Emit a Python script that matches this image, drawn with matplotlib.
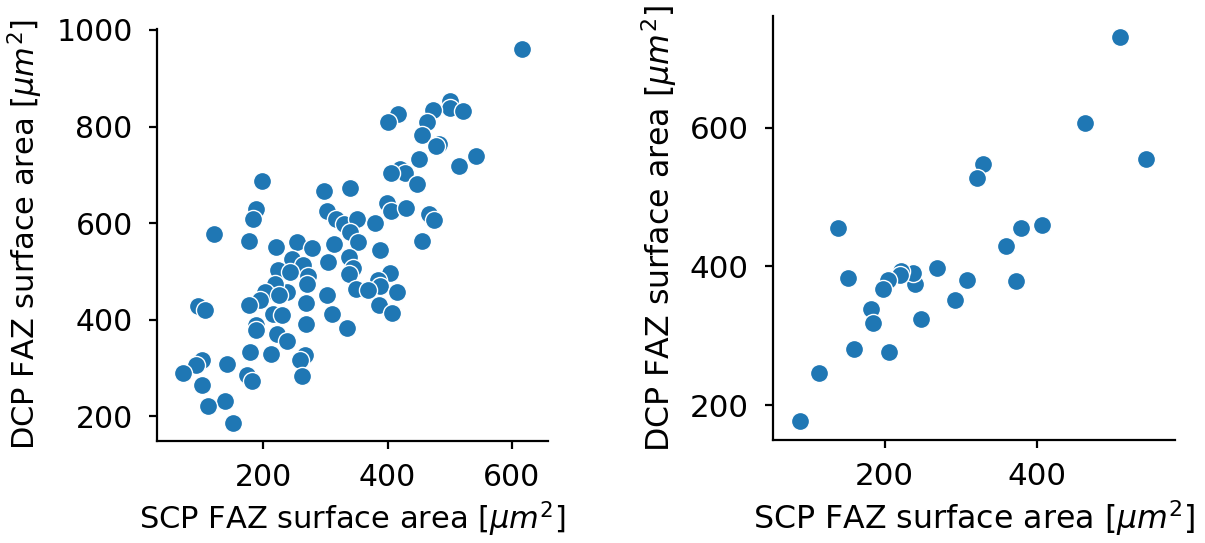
import numpy as np
import matplotlib
matplotlib.use('Agg')
import matplotlib.pyplot as plt

# Left panel: SCP vs DCP FAZ area (all eyes)
scp_all = [616, 501, 500, 473, 522, 463, 417, 400, 455, 483, 477, 542, 515,
           450, 420, 428, 406, 447, 198, 297, 340, 399, 406, 430, 467, 474,
           188, 184, 120, 177, 302, 317, 330, 351, 340, 380, 352, 456, 221,
           254, 278, 313, 388, 246, 264, 304, 338, 224, 243, 272, 344, 338,
           404, 384, 388, 349, 369, 415, 270, 238, 219, 203, 195, 177, 226,
           269, 302, 216, 230, 310, 334, 386, 407, 95, 106, 188, 189, 222,
           238, 269, 179, 213, 267, 259, 263, 101, 91, 71, 102, 141, 173,
           182, 138, 111, 152]
dcp_all = [960, 853, 838, 834, 833, 810, 826, 810, 782, 764, 760, 739, 718,
           733, 713, 704, 704, 682, 688, 667, 673, 641, 625, 632, 618, 606,
           630, 608, 577, 564, 625, 608, 598, 608, 582, 600, 561, 563, 551,
           561, 548, 556, 544, 525, 513, 520, 529, 503, 499, 490, 508, 494,
           496, 482, 469, 463, 461, 458, 474, 458, 475, 458, 440, 430, 451,
           435, 451, 413, 409, 413, 384, 430, 414, 428, 421, 390, 378, 371,
           357, 392, 333, 329, 328, 316, 283, 316, 306, 289, 266, 308, 285,
           273, 232, 221, 187]

# Right panel: SCP vs DCP FAZ area (subset)
scp_sub = [509, 463, 544, 329, 322, 139, 379, 407, 360, 373, 308, 269, 292,
           248, 240, 237, 222, 220, 204, 198, 182, 185, 152, 160, 205, 113, 89]
dcp_sub = [730, 607, 555, 548, 527, 456, 455, 459, 430, 379, 381, 398, 351,
           324, 375, 390, 393, 388, 380, 367, 339, 319, 384, 281, 277, 247, 178]

xlabel = 'SCP FAZ surface area [$\\mu m^2$]'
ylabel = 'DCP FAZ surface area [$\\mu m^2$]'

plt.rcParams['font.family'] = 'DejaVu Sans'

fig = plt.figure(figsize=(12.05, 5.43), dpi=100)
ax1 = fig.add_axes([0.1303, 0.1878, 0.3245, 0.7588])
ax2 = fig.add_axes([0.6415, 0.1897, 0.3336, 0.7800])

# the right panel was drawn a touch larger in the original
for ax, xs, ys, fs in [(ax1, scp_all, dcp_all, 21.5),
                       (ax2, scp_sub, dcp_sub, 22.3)]:
    ax.scatter(xs, ys, s=170, color='#1f77b4', edgecolors='white',
               linewidths=1.0, zorder=3)
    ax.spines['top'].set_visible(False)
    ax.spines['right'].set_visible(False)
    for sp in ['left', 'bottom']:
        ax.spines[sp].set_linewidth(1.6)
    ax.tick_params(axis='x', width=1.6, length=6, pad=10, labelsize=fs)
    ax.tick_params(axis='y', width=1.6, length=6, pad=11.5, labelsize=fs)
    ax.set_xlabel(xlabel, fontsize=fs + 0.5, labelpad=5)
    ax.set_ylabel(ylabel, fontsize=fs + 0.5, labelpad=8)

ax1.set_xlim(29, 658)
ax1.set_ylim(149, 1002)
ax1.set_xticks([200, 400, 600])
ax1.set_yticks([200, 400, 600, 800, 1000])

ax2.set_xlim(53, 582)
ax2.set_ylim(150, 760)
ax2.set_xticks([200, 400])
ax2.set_yticks([200, 400, 600])

fig.savefig('out.png', dpi=100)
